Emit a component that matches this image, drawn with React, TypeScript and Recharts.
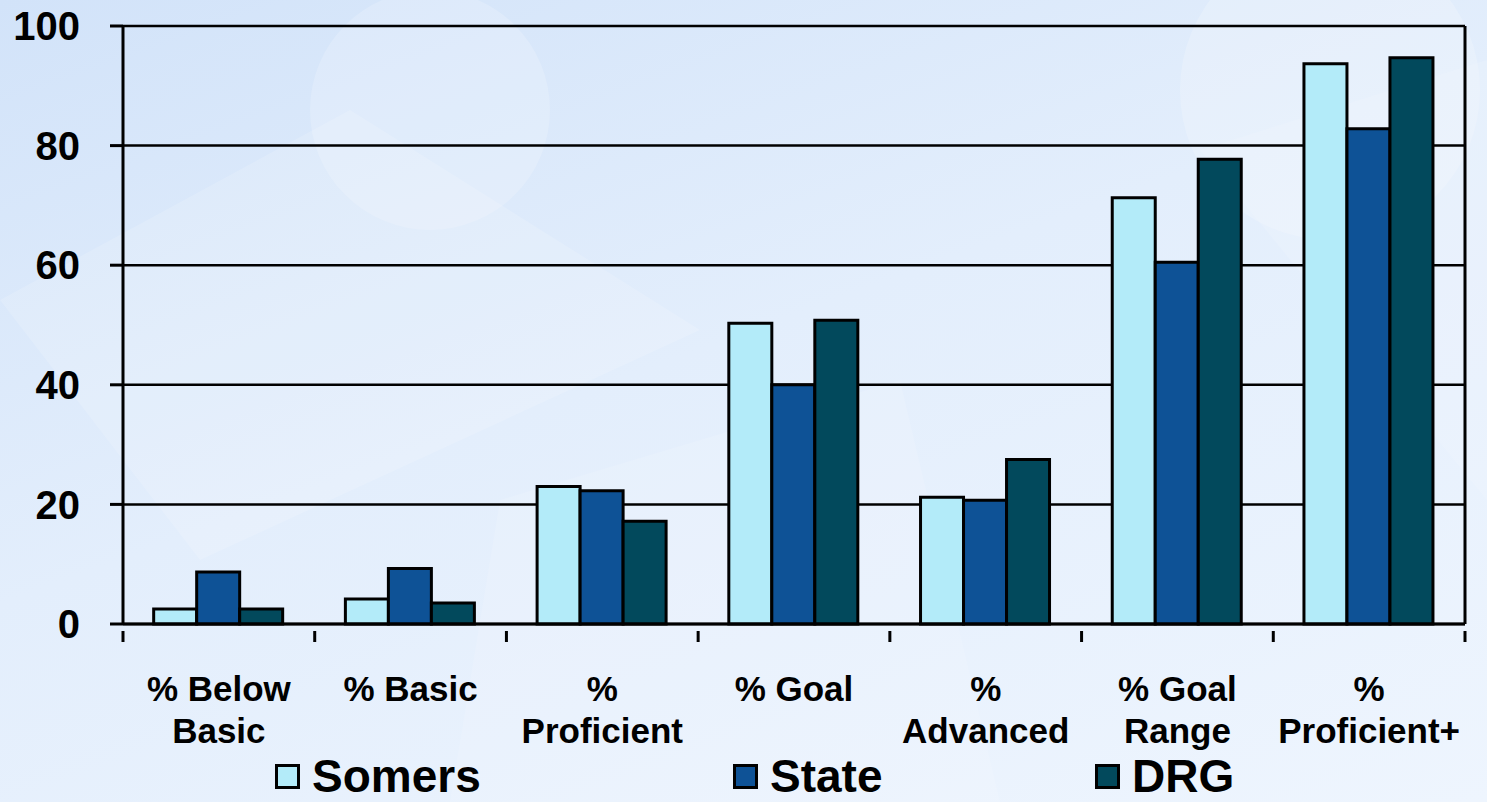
import React from "react";
import { BarChart, Bar, XAxis, YAxis, CartesianGrid, Legend } from "recharts";

const categories = [
  "% Below|Basic",
  "% Basic",
  "%|Proficient",
  "% Goal",
  "%|Advanced",
  "% Goal|Range",
  "%|Proficient+",
];
const somers = [2.5, 4.2, 23, 50.3, 21.2, 71.3, 93.7];
const state = [8.7, 9.3, 22.3, 40, 20.7, 60.5, 82.8];
const drg = [2.5, 3.5, 17.2, 50.8, 27.5, 77.7, 94.7];
const yTicks = [0, 20, 40, 60, 80, 100];

const seriesInfo = [
  { key: "Somers", color: "#b3ebf9" },
  { key: "State", color: "#0e5296" },
  { key: "DRG", color: "#02495c" },
];

const data = categories.map((c, i) => ({
  name: c,
  Somers: somers[i],
  State: state[i],
  DRG: drg[i],
}));

const FONT = "'Liberation Sans', Arial, sans-serif";

const XTick = (props: any) => {
  const { x, y, payload, index, width, visibleTicksCount } = props;
  const band = (width ?? 1342) / (visibleTicksCount ?? categories.length);
  const lines = String(payload.value).split("|");
  return (
    <g>
      {index === 0 && (
        <line x1={x - band / 2} x2={x - band / 2} y1={y - 1} y2={y + 10} stroke="#000" strokeWidth={3} />
      )}
      <line x1={x + band / 2} x2={x + band / 2} y1={y - 1} y2={y + 10} stroke="#000" strokeWidth={3} />
      <text x={x} y={y + 69} textAnchor="middle" fontFamily={FONT} fontWeight="bold" fontSize={35} fill="#000">
        {lines.map((l: string, i: number) => (
          <tspan key={i} x={x} dy={i === 0 ? 0 : 42}>
            {l}
          </tspan>
        ))}
      </text>
    </g>
  );
};

const legendPos = [275, 733, 1095];

const LegendContent = () => (
  <div style={{ position: "relative", width: 1487, height: 48 }}>
    {seriesInfo.map((s, i) => (
      <div
        key={s.key}
        style={{
          position: "absolute",
          left: legendPos[i],
          top: 0,
          display: "flex",
          alignItems: "center",
          height: 48,
        }}
      >
        <div
          style={{
            width: 19,
            height: 19,
            background: s.color,
            border: "3px solid #000",
            marginRight: 12,
          }}
        />
        <span style={{ fontFamily: FONT, fontWeight: "bold", fontSize: 46, color: "#000", lineHeight: "48px" }}>
          {s.key}
        </span>
      </div>
    ))}
  </div>
);

export default function App() {
  return (
    <div
      style={{
        position: "absolute",
        left: 0,
        top: 0,
        width: 1487,
        height: 802,
        overflow: "hidden",
        background: "linear-gradient(160deg, #d2e3f9 0%, #e3eefc 45%, #eef5fe 100%)",
      }}
    >
      <svg width={1487} height={802} style={{ position: "absolute", left: 0, top: 0 }}>
        <circle cx={430} cy={110} r={120} fill="#ffffff" opacity={0.18} />
        <circle cx={1330} cy={90} r={150} fill="#ffffff" opacity={0.2} />
        <polygon points="0,300 350,110 700,330 200,560" fill="#ffffff" opacity={0.15} />
        <polygon points="1200,150 1487,60 1487,500" fill="#ffffff" opacity={0.12} />
        <polygon points="500,500 900,380 1000,802 450,802" fill="#ffffff" opacity={0.12} />
      </svg>
      <div style={{ position: "absolute", left: 0, top: 0 }}>
        <BarChart
          width={1487}
          height={802}
          data={data}
          margin={{ top: 26, right: 0, left: 0, bottom: 2 }}
          barCategoryGap="16%"
          barGap={0}
        >
          <CartesianGrid vertical={false} stroke="#000" strokeWidth={2.5} />
          <XAxis
            dataKey="name"
            interval={0}
            height={128}
            axisLine={{ stroke: "#000", strokeWidth: 3 }}
            tickLine={false}
            tick={<XTick />}
          />
          <YAxis
            yAxisId={0}
            domain={[0, 100]}
            ticks={yTicks}
            width={123}
            interval={0}
            axisLine={{ stroke: "#000", strokeWidth: 3 }}
            tickLine={{ stroke: "#000", strokeWidth: 3 }}
            tickSize={13}
            tickMargin={30}
            tick={{ fontFamily: FONT, fontWeight: "bold", fontSize: 40, fill: "#000" }}
          />
          <YAxis
            yAxisId={1}
            orientation="right"
            domain={[0, 100]}
            width={22}
            tick={false}
            tickLine={false}
            axisLine={{ stroke: "#000", strokeWidth: 3 }}
          />
          <Legend verticalAlign="bottom" height={48} content={<LegendContent />} />
          {seriesInfo.map((s) => (
            <Bar
              key={s.key}
              dataKey={s.key}
              yAxisId={0}
              fill={s.color}
              stroke="#000"
              strokeWidth={3}
              isAnimationActive={false}
            />
          ))}
        </BarChart>
      </div>
    </div>
  );
}
